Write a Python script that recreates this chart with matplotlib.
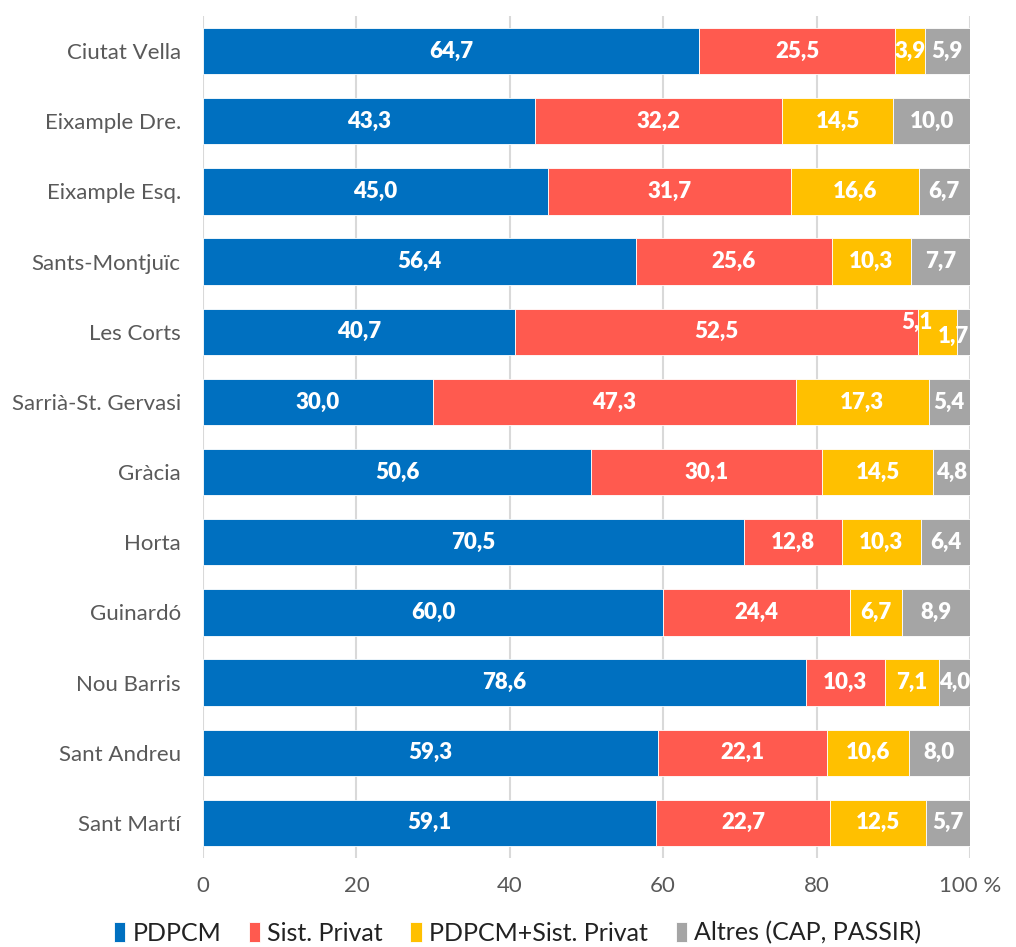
import matplotlib
matplotlib.use('Agg')
import matplotlib.pyplot as plt
import numpy as np

plt.rcParams['font.family'] = ['Lato', 'DejaVu Sans']

districts = ['Ciutat Vella', 'Eixample Dre.', 'Eixample Esq.', 'Sants-Montjuïc', 'Les Corts',
             'Sarrià-St. Gervasi', 'Gràcia', 'Horta', 'Guinardó', 'Nou Barris',
             'Sant Andreu', 'Sant Martí']
pdpcm = [64.7, 43.3, 45.0, 56.4, 40.7, 30.0, 50.6, 70.5, 60.0, 78.6, 59.3, 59.1]
privat = [25.5, 32.2, 31.7, 25.6, 52.5, 47.3, 30.1, 12.8, 24.4, 10.3, 22.1, 22.7]
mixt = [3.9, 14.5, 16.6, 10.3, 5.1, 17.3, 14.5, 10.3, 6.7, 7.1, 10.6, 12.5]
altres = [5.9, 10.0, 6.7, 7.7, 1.7, 5.4, 4.8, 6.4, 8.9, 4.0, 8.0, 5.7]

series = [
    ('PDPCM', pdpcm, '#0070C0'),
    ('Sist. Privat', privat, '#FF5A4F'),
    ('PDPCM+Sist. Privat', mixt, '#FFC000'),
    ('Altres (CAP, PASSIR)', altres, '#A5A5A5'),
]

# label nudges (points) where Excel moved crowded labels
nudges = {(4, 2): (-15, 6.5), (4, 3): (-7, -3.6)}

fig = plt.figure(figsize=(10.16, 9.47), dpi=100)
ax = fig.add_axes([0.1998, 0.094, 0.7549, 0.889])

y = np.arange(len(districts))
left = np.zeros(len(districts))
for j, (name, vals, color) in enumerate(series):
    vals = np.array(vals)
    bars = ax.barh(y, vals, left=left, height=0.66, color=color, label=name,
                   edgecolor='white', linewidth=0.6, zorder=3)
    for i, b in enumerate(bars):
        dx, dy = nudges.get((i, j), (0, 0))
        ax.annotate(f'{vals[i]:.1f}'.replace('.', ','),
                    (left[i] + vals[i] / 2, y[i]), xytext=(dx, dy),
                    textcoords='offset points', ha='center', va='center',
                    color='white', fontsize=16, fontweight='heavy', zorder=4)
    left += vals

ax.set_xlim(0, 100)
ax.set_ylim(len(districts) - 0.5, -0.5)
ax.set_yticks(y)
ax.set_yticklabels(districts)
ax.set_xticks([0, 20, 40, 60, 80, 100])
ax.set_xticklabels(['0', '20', '40', '60', '80', '100 %'])
ax.tick_params(axis='both', length=0, labelsize=16, colors='#595959')
ax.tick_params(axis='x', pad=13)
ax.tick_params(axis='y', pad=16)
ax.grid(axis='x', color='#D9D9D9', linewidth=1.5, zorder=0)
for s in ax.spines.values():
    s.set_visible(False)

ax.legend(loc='center', bbox_to_anchor=(0.41, -0.089), ncol=4, frameon=False,
          fontsize=18, handlelength=0.45, handleheight=0.85, handletextpad=0.3,
          columnspacing=1.1, labelcolor='#222222', borderpad=0.1)

fig.savefig('out.png', dpi=100)
